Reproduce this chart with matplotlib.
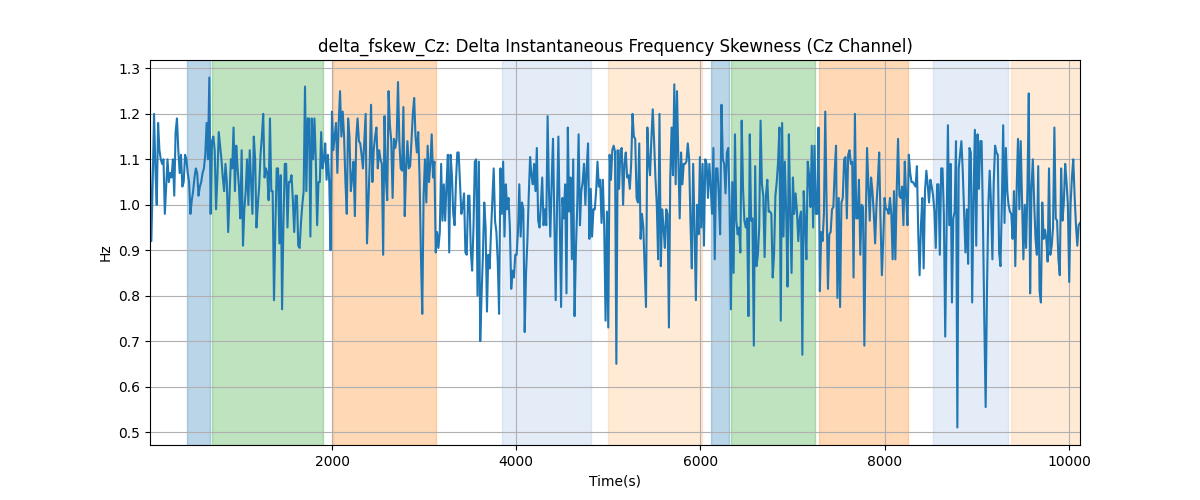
import numpy as np
import matplotlib
matplotlib.use("Agg")
import matplotlib.pyplot as plt


T_START = 24
T_END = 10120

# delta skewness values (Hz), left to right
seg1 = [1.09, 0.92, 1.05, 1.20, 1.08, 1.00, 1.18, 1.12, 1.10, 1.09,
        1.10, 0.98, 1.04, 1.10, 1.05, 1.07, 1.06, 1.10, 1.02, 1.16,
        1.19, 1.12, 1.07, 1.11, 1.04, 1.05, 1.11, 1.10, 1.07, 1.05,
        0.98, 1.01, 1.03, 1.06, 1.08, 1.07, 1.02, 1.04, 1.05, 1.07,
        1.08, 1.11, 1.18, 1.10, 1.28, 0.98, 1.14, 1.15, 1.12, 0.99,
        1.06, 1.16, 1.13, 1.10, 1.06, 1.03, 1.09, 1.05, 0.94, 1.02,
        1.10, 1.08, 1.17, 1.03, 1.13, 1.08, 1.04, 0.97, 1.12, 0.91,
        0.99, 1.03, 1.10, 1.00, 1.12, 1.05, 0.98, 1.15, 1.10, 0.95,
        1.00, 1.04, 1.11, 1.15, 1.20, 1.06]
seg2 = [1.08, 1.07, 1.01, 1.19, 1.03, 1.03, 0.79, 0.95, 1.08, 1.08,
        0.915, 1.065, 0.77, 0.96, 1.09, 1.09, 0.95, 1.05, 1.05, 1.065,
        1.01, 0.94, 1.02, 1.02, 0.91, 0.905, 0.96, 1.0, 1.03, 1.26,
        1.03, 1.19, 1.19, 0.93, 1.19, 1.10, 1.19, 1.10, 0.955, 1.05,
        1.05, 1.16, 1.08, 1.10, 1.135, 1.055, 1.11, 1.05, 0.90, 1.205,
        1.12, 1.15, 1.18, 1.07, 1.18, 1.25, 1.15, 1.205, 1.15, 1.05,
        0.98, 1.19, 1.15, 1.03, 1.06, 1.095, 0.975, 1.145, 1.19, 1.14,
        1.135, 1.11, 1.08, 1.14, 1.20, 0.915, 1.00, 1.09, 1.22, 1.05,
        1.12, 1.15, 1.17, 1.08, 1.12, 1.10]
seg3 = [1.09, 0.89, 1.195, 1.06, 1.01, 1.25, 1.175, 1.14, 1.015, 1.145,
        1.125, 1.145, 1.27, 1.14, 1.08, 1.075, 1.215, 0.975, 1.08, 1.14,
        1.08, 1.085, 1.14, 1.20, 1.235, 1.15, 1.115, 1.16, 1.06, 0.89,
        0.76, 1.02, 1.10, 1.005, 1.13, 1.05, 1.09, 1.155, 1.06, 1.095,
        0.895, 0.94, 0.905, 0.94, 1.09, 0.965, 1.045, 0.965, 1.045, 1.11,
        0.895, 1.11, 1.065, 0.98, 0.955, 1.05, 1.115, 1.115, 1.05, 0.98,
        0.995, 1.025, 0.895, 0.89, 1.02, 1.02, 0.90, 0.855, 0.95, 1.095,
        1.10, 0.80, 1.095, 0.70, 0.80, 0.89, 1.005, 0.95, 0.765, 0.89,
        0.86, 0.94, 1.01, 1.08, 0.965, 0.94, 0.875, 0.76, 1.08, 0.98,
        1.095]
seg4 = [0.93, 1.045, 0.99, 1.015, 0.95, 0.815, 0.855, 0.84, 0.89, 0.89,
        0.94, 1.045, 0.93, 1.005, 0.99, 0.72, 0.85, 0.92, 1.02, 1.105,
        1.065, 1.045, 1.09, 1.03, 1.125, 0.965, 0.95, 1.0, 1.06, 0.955,
        0.99, 0.955, 1.195, 1.03, 0.93, 1.05, 1.145, 0.97, 0.79, 1.0,
        1.15, 0.97, 0.775, 1.015, 0.97, 1.045, 0.805, 1.17, 0.985, 1.06,
        0.88, 1.10, 0.755, 0.90, 1.0, 1.155, 0.955, 1.03, 1.05, 1.09,
        1.0, 1.08, 1.135, 0.925, 1.035, 0.93, 0.99, 0.99, 1.03, 1.095,
        1.04, 1.055, 0.96, 1.055, 0.95, 0.745, 0.985, 0.73, 1.11, 1.055,
        1.12, 1.13]
seg5 = [1.117, 0.65, 1.12, 1.035, 1.12, 1.125, 1.0, 1.09, 1.115, 1.06,
        1.065, 1.035, 1.09, 1.20, 1.15, 1.145, 1.015, 1.005, 1.135, 0.925,
        0.98, 0.95, 0.86, 0.775, 1.17, 1.095, 1.065, 1.145, 1.21, 1.14,
        1.06, 1.0, 0.88, 1.20, 0.865, 0.99, 0.95, 0.905, 0.99, 0.98,
        0.73, 1.06, 1.17, 1.065, 1.265, 1.045, 1.25, 1.10, 0.97, 1.115,
        1.045, 1.09, 1.09, 1.095, 1.135, 1.10, 0.96, 0.86, 1.09, 0.95,
        0.79, 1.0, 0.935, 1.105, 0.95, 1.09, 0.91, 1.10, 1.09, 1.015,
        1.09, 1.04, 0.98, 1.125, 0.88, 1.08, 1.08, 1.02, 0.935, 1.22,
        1.10, 1.09, 1.025, 1.115]
seg6 = [1.125, 1.005, 0.77, 1.05, 0.85, 1.155, 0.965, 0.935, 0.95, 0.895,
        1.185, 1.035, 0.965, 0.95, 0.97, 0.755, 1.155, 0.965, 0.97, 0.69,
        1.085, 0.865, 0.89, 0.95, 1.185, 1.045, 1.02, 0.885, 1.02, 1.055,
        0.985, 0.985, 0.98, 0.84, 0.89, 1.02, 1.05, 1.095, 1.17, 0.745,
        1.18, 0.93, 1.095, 0.985, 0.82, 1.155, 0.985, 0.85, 1.06, 0.98,
        1.025, 0.985, 0.92, 0.97, 0.985, 0.67, 1.03, 0.965, 0.88, 1.095,
        1.065, 0.995, 1.13, 0.95, 1.13, 0.98, 0.98, 1.17, 0.81, 0.94,
        0.92, 0.98, 1.205, 1.0, 0.815, 0.935, 0.94, 0.99, 0.995, 1.075,
        1.13, 0.795, 1.015, 0.775, 1.005]
seg7 = [1.015, 1.10, 1.105, 0.97, 1.11, 1.12, 1.09, 1.095, 0.84, 1.20,
        0.97, 0.97, 1.055, 0.89, 1.0, 0.995, 0.69, 0.955, 1.125, 1.045,
        0.965, 1.06, 1.03, 0.98, 0.915, 1.0, 1.05, 1.115, 0.965, 0.845,
        0.92, 1.015, 0.99, 0.99, 0.98, 1.015, 0.98, 0.88, 1.03, 0.88,
        1.03, 1.145, 1.02, 1.015, 1.04, 0.955, 1.095, 1.02, 0.955, 1.11,
        1.07, 1.05, 1.05, 1.045, 1.04, 1.085, 0.935, 0.845, 0.955, 1.015,
        0.86, 1.03, 1.075, 1.045, 1.005, 1.055, 1.04, 1.02, 0.985, 0.905,
        1.045, 1.045, 0.89, 1.08, 1.08, 0.98, 0.71, 0.95, 1.175, 0.955,
        1.09, 0.785, 0.97, 0.985, 1.14, 0.51]
seg8 = [1.08, 1.11, 1.14, 1.075, 0.985, 0.895, 0.99, 0.87, 1.125, 1.115,
        0.785, 1.015, 1.165, 0.91, 1.155, 1.035, 1.14, 1.14, 0.965, 0.745,
        0.555, 0.815, 1.0, 1.075, 1.0, 0.88, 1.05, 1.13, 1.115, 1.11,
        0.895, 0.865, 1.0, 1.175, 0.96, 1.125, 1.03, 1.0, 0.985, 0.98,
        0.925, 1.03, 0.865, 1.035, 1.145, 0.99, 1.14, 1.005, 0.88, 1.0,
        0.905, 1.035, 1.245, 0.805, 1.035, 1.10, 1.005, 0.925, 0.89, 1.085,
        0.81, 0.785, 1.005, 0.925, 0.945, 0.925, 0.875, 1.08, 0.89, 0.91,
        0.95, 1.17, 0.97, 0.965, 0.88, 0.845, 1.08, 0.965, 1.005, 1.09,
        1.05, 1.0, 0.83, 1.0, 1.06, 1.10, 1.02, 0.955, 0.91, 0.955, 0.96]

values = np.array(seg1 + seg2 + seg3 + seg4 + seg5 + seg6 + seg7 + seg8)
t = np.linspace(T_START, T_END, len(values))

# shaded intervals (start, end, colour, alpha)
span_starts = [425, 697, 2010, 3846, 4997, 6115, 6332, 7288, 8525, 9373]
span_ends = [675, 1902, 3130, 4812, 6017, 6311, 7244, 8254, 9340, 10200]
span_colors = ['tab:blue', 'tab:green', 'tab:orange', '#aec7e8', '#ffbb78',
               'tab:blue', 'tab:green', 'tab:orange', '#aec7e8', '#ffbb78']
span_alphas = [0.3, 0.3, 0.3, 0.33, 0.3, 0.3, 0.3, 0.3, 0.33, 0.3]


fig, ax = plt.subplots(figsize=(12, 5), dpi=100)
for s, e, c, a in zip(span_starts, span_ends, span_colors, span_alphas):
    ax.axvspan(s, e, color=c, alpha=a)
ax.plot(t, values, color='tab:blue')

ax.set_xlim(T_START, T_END)
ax.set_title('delta_fskew_Cz: Delta Instantaneous Frequency Skewness (Cz Channel)')
ax.set_xlabel('Time(s)')
ax.set_ylabel('Hz')
ax.grid(True)
fig.savefig('out.png')
